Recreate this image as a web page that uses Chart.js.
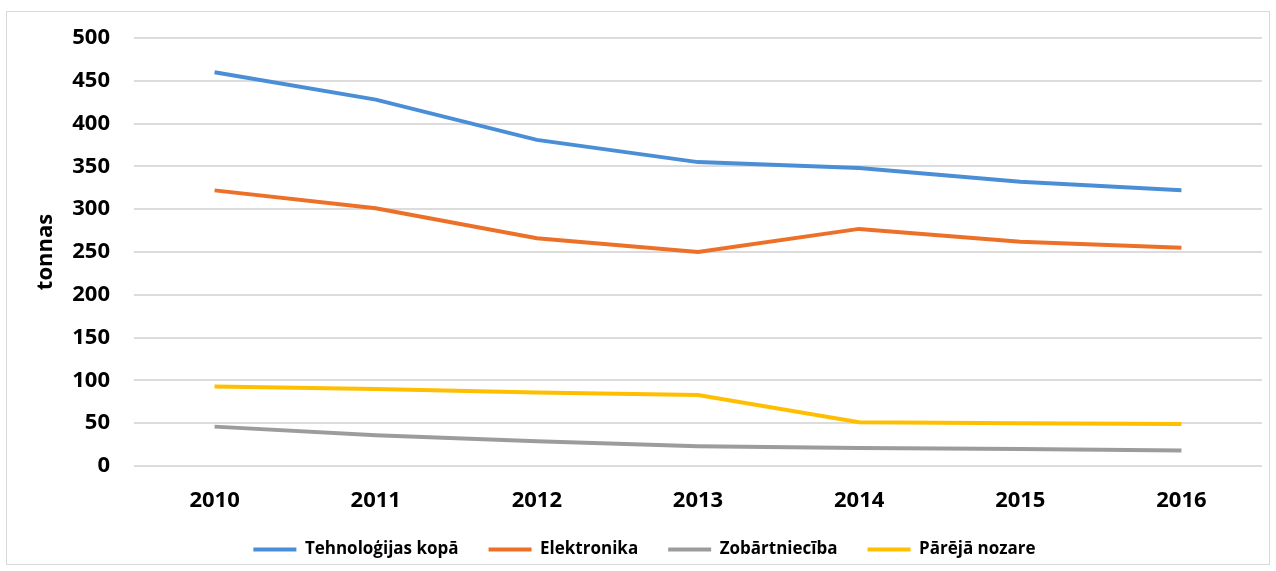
<!DOCTYPE html>
<html lang="lv">
<head>
    <meta charset="UTF-8">
    <title>tonnas</title>
    <script src="https://cdn.jsdelivr.net/npm/chart.js"></script>
    <style>
        html, body { margin: 0; padding: 0; background: #fff; }
        #frame { position: absolute; left: 6px; top: 11px; width: 1262px; height: 552px; border: 1px solid #d9d9d9; }
        #lineChart { display: block; }
    </style>
</head>
<body>
    <div id="frame">
        <canvas id="lineChart" width="1262" height="552"></canvas>
    </div>
    <script>
    // gadi un vērtības (tonnas)
    const years = ['2010', '2011', '2012', '2013', '2014', '2015', '2016'];
    const tehnologijas = [460, 428, 381, 355, 348, 332, 322];
    const elektronika = [322, 301, 266, 250, 277, 262, 255];
    const zobartniecIba = [46, 36, 29, 23, 21, 20, 18];
    const pareja = [93, 90, 86, 83, 51, 50, 49];

    const seriesNames = ['Tehnoloģijas kopā', 'Elektronika', 'Zobārtniecība', 'Pārējā nozare'];
    const seriesColors = ['#4a8fd6', '#ec7028', '#9c9c9c', '#ffbf00'];
    const seriesData = [tehnologijas, elektronika, zobartniecIba, pareja];

    const datasets = seriesNames.map(function(name, i) {
        return {
            label: name,
            data: seriesData[i],
            borderColor: seriesColors[i],
            backgroundColor: seriesColors[i],
            borderWidth: 4,
            pointRadius: 0,
            tension: 0
        };
    });

    // leģendas padding darbojas gan horizontāli, gan vertikāli -
    // šeit atstājam tikai horizontālo atstarpi
    const compactLegend = {
        id: 'compactLegend',
        beforeLayout: function(chart) {
            const legend = chart.legend;
            if (!legend || legend._compact) return;
            const fitOrig = legend.fit;
            legend.fit = function() {
                fitOrig.call(this);
                this.height -= this.options.labels.padding + 2;
            };
            legend._compact = true;
        },
        afterLayout: function(chart) {
            const legend = chart.legend;
            legend.top -= legend.options.labels.padding - 4;
            legend.left += 10;
            legend.right += 10;
        }
    };

    const ctx = document.getElementById('lineChart').getContext('2d');
    const lineChart = new Chart(ctx, {
        type: 'line',
        data: { labels: years, datasets: datasets },
        plugins: [compactLegend],
        options: {
            responsive: false,
            animation: false,
            layout: { padding: { top: 0, right: 7, left: 0, bottom: 2 } },
            plugins: {
                tooltip: { enabled: false },
                legend: {
                    position: 'bottom',
                    labels: {
                        boxWidth: 43,
                        boxHeight: 4,
                        padding: 30,
                        color: '#000',
                        font: { family: 'Open Sans', size: 17, weight: 'bold' },
                        generateLabels: function(chart) {
                            return Chart.defaults.plugins.legend.labels.generateLabels(chart).map(function(item) {
                                item.lineWidth = 0;
                                return item;
                            });
                        }
                    }
                }
            },
            scales: {
                x: {
                    offset: true,
                    afterFit: function(scale) { scale.height = 71; },
                    grid: { display: false, drawTicks: false },
                    border: { display: false },
                    ticks: {
                        color: '#000',
                        padding: 22,
                        font: { family: 'Open Sans', size: 22, weight: 'bold' }
                    }
                },
                y: {
                    min: 0,
                    max: 500,
                    afterFit: function(scale) {
                        scale.width = 127;
                        scale.paddingTop = 26;
                        scale.paddingBottom = 14;
                    },
                    grid: { color: '#dcdcdc', lineWidth: 2, drawTicks: false },
                    border: { display: false },
                    ticks: {
                        stepSize: 50,
                        color: '#000',
                        padding: 24,
                        font: { family: 'Open Sans', size: 22, weight: 'bold' }
                    },
                    title: {
                        display: true,
                        text: 'tonnas',
                        color: '#000',
                        padding: { top: 26, bottom: 0 },
                        font: { family: 'Open Sans', size: 22, weight: 'bold' }
                    }
                }
            }
        }
    });
    </script>
</body>
</html>
